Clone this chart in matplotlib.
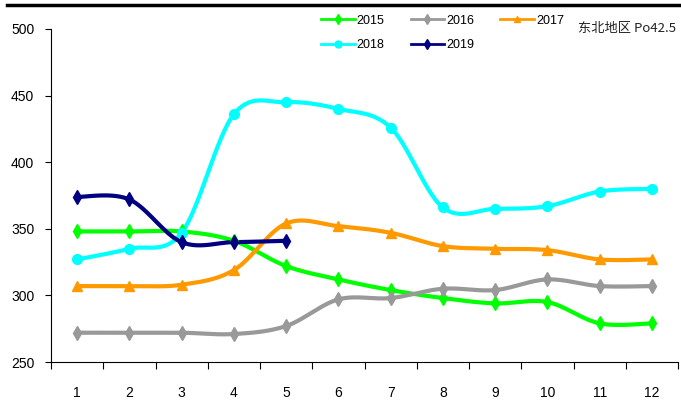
import numpy as np
import matplotlib
matplotlib.use("Agg")
import matplotlib.pyplot as plt
from matplotlib.lines import Line2D

plt.rcParams['font.family'] = ['Liberation Sans', 'DejaVu Sans']

months = [1, 2, 3, 4, 5, 6, 7, 8, 9, 10, 11, 12]
y2015 = [348, 348, 348, 341, 322, 312, 304, 298, 294, 295, 279, 279]
y2016 = [272, 272, 272, 271, 277, 297, 298, 305, 304, 312, 307, 307]
y2017 = [307, 307, 308, 319, 354, 352, 347, 337, 335, 334, 327, 327]
y2018 = [327, 335, 347, 436, 445, 440, 426, 366, 365, 367, 378, 380]
y2019 = [374, 372, 340, 340, 341]
yticks = [250, 300, 350, 400, 450, 500]
title_text = "东北地区 Po42.5"


def smooth(xs, ys, n=30):
    """Catmull-Rom style smoothing through every point (like spreadsheet smoothed lines)."""
    xs = np.asarray(xs, float)
    ys = np.asarray(ys, float)
    px = np.concatenate([[xs[0]], xs, [xs[-1]]])
    py = np.concatenate([[ys[0]], ys, [ys[-1]]])
    ox, oy = [], []
    for i in range(1, len(px) - 2):
        p0 = np.array([px[i - 1], py[i - 1]])
        p1 = np.array([px[i], py[i]])
        p2 = np.array([px[i + 1], py[i + 1]])
        p3 = np.array([px[i + 2], py[i + 2]])
        c1 = p1 + (p2 - p0) / 6.0
        c2 = p2 - (p3 - p1) / 6.0
        t = np.linspace(0, 1, n)[:, None]
        b = ((1 - t) ** 3) * p1 + 3 * ((1 - t) ** 2) * t * c1 + 3 * (1 - t) * t ** 2 * c2 + t ** 3 * p2
        ox.extend(b[:, 0])
        oy.extend(b[:, 1])
    return np.array(ox), np.array(oy)


fig = plt.figure(figsize=(6.81, 4.16), dpi=100)
ax = fig.add_axes([51 / 681, 1 - 362 / 416, 627 / 681, 333 / 416])

series = [
    ("2015", y2015, "#00ff00", "d", 7),
    ("2016", y2016, "#999999", "d", 7),
    ("2017", y2017, "#ff9900", "^", 7),
    ("2018", y2018, "#00ffff", "o", 7),
    ("2019", y2019, "#000080", "d", 7),
]

handles = {}
for name, ys, color, mk, ms in series:
    xs = months[:len(ys)]
    sx, sy = smooth(xs, ys)
    ax.plot(sx, sy, color=color, lw=3, solid_capstyle='round', zorder=2)
    ax.plot(xs, ys, ls='none', marker=mk, color=color, ms=ms, mec=color, zorder=3)
    handles[name] = Line2D([], [], color=color, lw=2, marker=mk, ms=5, mec=color)

ax.set_xlim(0.5, 12.5)
ax.set_ylim(250, 500)
ax.set_yticks(yticks)
ax.set_yticklabels([str(v) for v in yticks], fontsize=10)
ax.set_xticks(np.arange(0.5, 12.6, 1))
ax.set_xticklabels([])
ax.set_xticks(months, minor=True)
ax.set_xticklabels([str(m) for m in months], minor=True, fontsize=10)
ax.tick_params(axis='x', which='major', direction='out', length=5, width=0.8)
ax.tick_params(axis='x', which='minor', length=0, pad=17)
ax.tick_params(axis='y', direction='out', length=4, width=0.8, pad=8)
ax.spines['top'].set_visible(False)
ax.spines['right'].set_visible(False)
ax.spines['left'].set_linewidth(0.8)
ax.spines['bottom'].set_linewidth(0.8)

order = ["2015", "2018", "2016", "2019", "2017"]
fig.legend([handles[k] for k in order], order, ncol=3, loc='upper left',
           bbox_to_anchor=(312 / 681, 1 - 6 / 416), frameon=False, fontsize=9,
           handlelength=2.7, handletextpad=0.15, columnspacing=2.1, labelspacing=1.0,
           borderpad=0.2)

fig.text(676 / 681, 1 - 28 / 416, title_text, fontsize=9.5, va='center', ha='right',
         family=['Noto Sans CJK SC', 'DejaVu Sans'], color='#222222')

fig.add_artist(Line2D([7 / 681, 1.0], [1 - 5 / 416, 1 - 5 / 416], color='black', lw=2.5))

fig.savefig("out.png", dpi=100)
